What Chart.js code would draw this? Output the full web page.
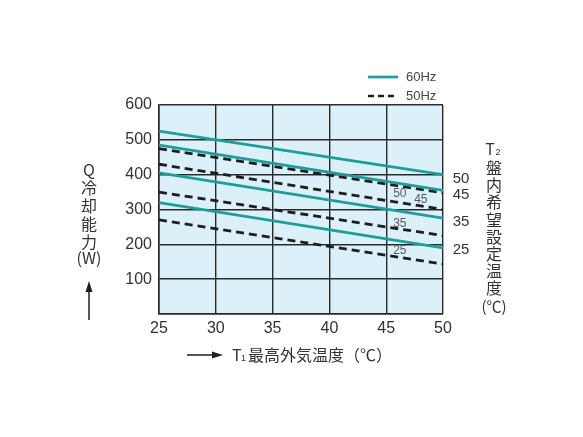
<!DOCTYPE html>
<html>
<head>
<meta charset="utf-8">
<script src="https://cdn.jsdelivr.net/npm/chart.js@4.4.1/dist/chart.umd.min.js"></script>
<style>
  html, body { margin: 0; padding: 0; background: #fff; }
  #wrap { width: 583px; height: 437px; }
</style>
</head>
<body>
<div id="wrap"><canvas id="myChart"></canvas></div>
<script>
// T1 outside temperature range (x)
const t1Range = [25, 50];
const yTicks = [0, 100, 200, 300, 400, 500, 600];

// 60Hz cooling capacity (W) for each T2 setting
const q60_50 = [525, 400];
const q60_45 = [485, 355];
const q60_35 = [405, 275];
const q60_25 = [320, 190];

// 50Hz cooling capacity (W)
const q50_50 = [475, 348];
const q50_45 = [430, 300];
const q50_35 = [350, 225];
const q50_25 = [270, 143];

const t2Labels = ['50', '45', '35', '25'];

const teal = '#1d9e98';
const ink = '#1e1e1e';
const txt = '#333';
const jp = '"Noto Sans CJK JP", "Liberation Sans", sans-serif';
const num = '"Liberation Sans", Arial, sans-serif';

function pts(vals) {
    return t1Range.map((t, i) => ({ x: t, y: vals[i] }));
}

function line60(vals, t2) {
    return { label: '60Hz ' + t2, data: pts(vals), borderColor: teal, borderWidth: 2.7, pointRadius: 0, fill: false };
}
function line50(vals, t2) {
    return { label: '50Hz ' + t2, data: pts(vals), borderColor: ink, borderWidth: 2.8, borderDash: [8, 5], pointRadius: 0, fill: false };
}

// light blue plot background
const bgPlugin = {
    id: 'bg',
    beforeDraw(chart) {
        const a = chart.chartArea, c = chart.ctx;
        c.save();
        c.fillStyle = '#dcf0fa';
        c.fillRect(a.left, a.top, a.right - a.left, a.bottom - a.top);
        c.restore();
    }
};

// text around the plot: legend, titles, T2 labels
const textPlugin = {
    id: 'texts',
    afterDraw(chart) {
        const c = chart.ctx, a = chart.chartArea;
        const xs = chart.scales.x, ys = chart.scales.y;
        c.save();

        // legend
        c.lineWidth = 2.7;
        c.strokeStyle = teal;
        c.beginPath(); c.moveTo(368, 77); c.lineTo(398, 77); c.stroke();
        c.strokeStyle = ink;
        c.setLineDash([6, 4]);
        c.beginPath(); c.moveTo(368, 96); c.lineTo(398, 96); c.stroke();
        c.setLineDash([]);
        c.fillStyle = '#444';
        c.font = '13px ' + num;
        c.textAlign = 'left'; c.textBaseline = 'middle';
        c.fillText('60Hz', 406, 77);
        c.fillText('50Hz', 406, 96);

        // small labels inside plot
        c.fillStyle = '#5a5a5a';
        c.font = '12px ' + num;
        c.textAlign = 'center';
        c.fillText('50', xs.getPixelForValue(46.2), ys.getPixelForValue(346));
        c.fillText('45', xs.getPixelForValue(48.05), ys.getPixelForValue(329));
        c.fillText('35', xs.getPixelForValue(46.2), ys.getPixelForValue(258));
        c.fillText('25', xs.getPixelForValue(46.2), ys.getPixelForValue(183));

        // T2 values on the right
        c.fillStyle = txt;
        c.font = '15px ' + num;
        const rightY = [387, 341, 264, 183];
        t2Labels.forEach((l, i) => c.fillText(l, a.right + 18, ys.getPixelForValue(rightY[i])));

        // right title, vertical
        c.font = '16px ' + jp;
        c.fillText('T', 490, 149);
        c.font = '9px ' + num;
        c.fillText('2', 498, 153);
        c.font = '16px ' + jp;
        const rchars = ['盤', '内', '希', '望', '設', '定', '温', '度'];
        rchars.forEach((ch, i) => c.fillText(ch, 494, 168 + i * 17.2));
        c.font = '15px ' + jp;
        c.fillText('(℃)', 494, 306);

        // left title, vertical
        c.font = '16px ' + jp;
        const lchars = ['Q', '冷', '却', '能', '力'];
        lchars.forEach((ch, i) => c.fillText(ch, 89, 170 + i * 18));
        c.fillText('(W)', 89, 258);
        // up arrow
        c.strokeStyle = ink; c.fillStyle = ink; c.lineWidth = 1.5;
        c.beginPath(); c.moveTo(89, 320); c.lineTo(89, 288); c.stroke();
        c.beginPath(); c.moveTo(89, 281); c.lineTo(85.5, 292); c.lineTo(92.5, 292); c.closePath(); c.fill();

        // bottom title
        c.beginPath(); c.moveTo(187, 355); c.lineTo(215, 355); c.stroke();
        c.beginPath(); c.moveTo(223, 355); c.lineTo(212, 351.5); c.lineTo(212, 358.5); c.closePath(); c.fill();
        c.fillStyle = txt;
        c.textAlign = 'left';
        c.font = '16px ' + jp;
        c.fillText('T', 232, 355);
        c.font = '9px ' + num;
        c.fillText('1', 241, 359);
        c.font = '16px ' + jp;
        c.fillText('最高外気温度（℃）', 248, 355);
        c.restore();
    }
};

new Chart(document.getElementById('myChart'), {
    type: 'line',
    data: {
        datasets: [
            line60(q60_50, t2Labels[0]), line60(q60_45, t2Labels[1]), line60(q60_35, t2Labels[2]), line60(q60_25, t2Labels[3]),
            line50(q50_50, t2Labels[0]), line50(q50_45, t2Labels[1]), line50(q50_35, t2Labels[2]), line50(q50_25, t2Labels[3])
        ]
    },
    options: {
        responsive: true,
        maintainAspectRatio: false,
        animation: false,
        layout: { padding: { left: 0, right: 140, top: 105, bottom: 0 } },
        plugins: { legend: { display: false }, tooltip: { enabled: false } },
        scales: {
            x: {
                type: 'linear', min: t1Range[0], max: t1Range[1],
                ticks: { stepSize: 5, color: txt, font: { family: num, size: 16 }, padding: 5, maxRotation: 0 },
                grid: { color: '#2a2a2a', lineWidth: 1.4, drawTicks: false },
                border: { color: '#2a2a2a', width: 1.6 },
                afterFit(s) { s.height = 123; }
            },
            y: {
                min: yTicks[0], max: yTicks[yTicks.length - 1],
                ticks: { stepSize: 100, color: txt, font: { family: num, size: 16 }, padding: 7,
                         callback: v => v === 0 ? '' : v },
                grid: { color: '#2a2a2a', lineWidth: 1.4, drawTicks: false },
                border: { color: '#2a2a2a', width: 1.6 },
                afterFit(s) { s.width = 159; }
            }
        }
    },
    plugins: [bgPlugin, textPlugin]
});
</script>
</body>
</html>
